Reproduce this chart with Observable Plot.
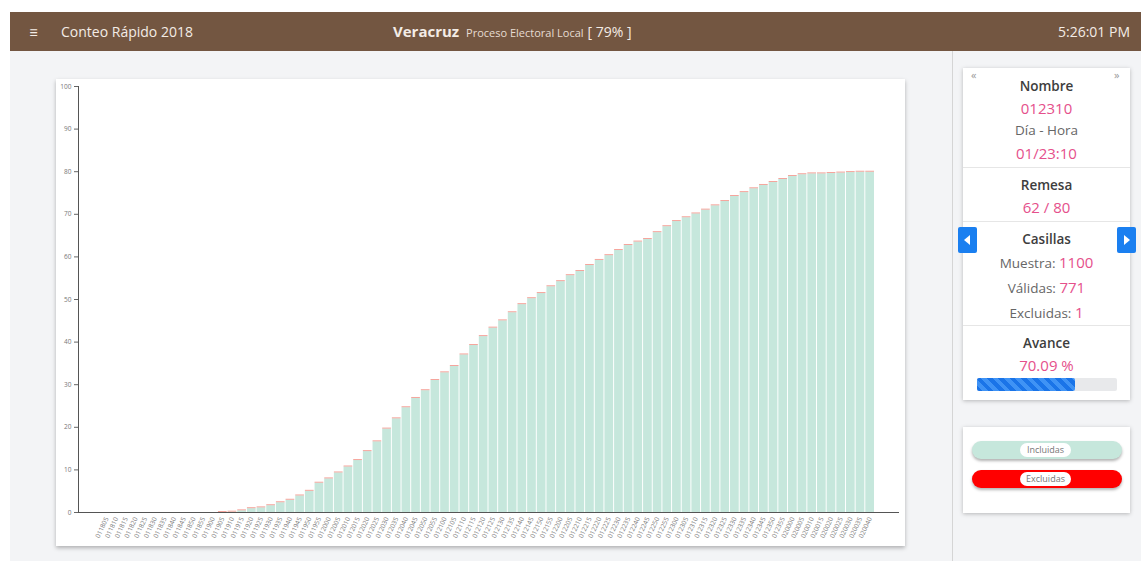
<!DOCTYPE html>
<html>
<head>
<meta charset="utf-8">
<script src="https://cdn.jsdelivr.net/npm/d3@7"></script>
<script src="https://cdn.jsdelivr.net/npm/@observablehq/plot@0.6"></script>
<style>
  html, body { margin: 0; padding: 0; }
  body { width: 1147px; height: 561px; position: relative; overflow: hidden; background: #ffffff; font-family: "Open Sans", "Lato", sans-serif; }
  .abs { position: absolute; }
  #page { left: 10px; top: 12px; width: 1131px; height: 549px; background: #f3f4f6; }
  #header { left: 10px; top: 12px; width: 1131px; height: 39px; background: #735641; color: #f3ece6; }
  #vline { left: 952px; top: 51px; width: 1px; height: 510px; background: #d5d5d5; }
  #chartcard { left: 56px; top: 79px; width: 849px; height: 467px; background: #fff; box-shadow: 0 2px 4px rgba(0,0,0,0.28); }
  .card { background: #fff; box-shadow: 0 1px 4px rgba(0,0,0,0.25); }
  .c { position: absolute; left: 963px; width: 167px; text-align: center; white-space: nowrap; }
  .hd { font-size: 13.5px; color: #3d3d3d; font-weight: 600; }
  .pk { font-size: 15px; color: #e5508b; }
  .gr { font-size: 13.5px; color: #666; }
  .sep { position: absolute; left: 963px; width: 167px; height: 1px; background: #e6e6e6; }
  .btn { position: absolute; width: 19px; height: 26px; background: #1a7ff0; border-radius: 2px; }
  .pill { position: absolute; left: 972px; width: 150px; height: 18px; border-radius: 9px; box-shadow: 0 2px 3px rgba(0,0,0,0.3); }
  .pill span { position: absolute; left: 48px; top: 2px; width: 51px; height: 14px; border-radius: 7px; background: #fff; font-size: 9px; color: #777; text-align: center; line-height: 14px; }
</style>
</head>
<body>
<div id="page" class="abs"></div>
<div id="header" class="abs">
  <div class="abs" style="left:19px;top:9px;font-size:16px;">&#8801;</div>
  <div class="abs" style="left:51px;top:10px;font-size:14px;">Conteo Rápido 2018</div>
  <div class="abs" style="left:383px;top:9px;font-size:15px;font-weight:700;white-space:nowrap;">Veracruz <span style="font-size:11px;font-weight:400;color:#e6dcd2;margin-left:3px;">Proceso Electoral Local</span> <span style="font-weight:400;font-size:14px;">[ 79% ]</span></div>
  <div class="abs" style="left:1020px;top:10px;font-size:14px;width:100px;text-align:right;white-space:nowrap;">5:26:01 PM</div>
</div>
<div id="vline" class="abs"></div>
<div id="chartcard" class="abs"></div>

<div class="abs card" style="left:963px;top:68px;width:167px;height:332px;"></div>
<div class="abs" style="left:971px;top:67px;font-size:11px;color:#999;">&#171;</div>
<div class="abs" style="left:1114px;top:67px;font-size:11px;color:#999;">&#187;</div>
<div class="c hd" style="top:77px;">Nombre</div>
<div class="c pk" style="top:98px;">012310</div>
<div class="c gr" style="top:121px;">Día - Hora</div>
<div class="c pk" style="top:143px;">01/23:10</div>
<div class="sep" style="top:167px;"></div>
<div class="c hd" style="top:176px;">Remesa</div>
<div class="c pk" style="top:197px;">62 / 80</div>
<div class="sep" style="top:221px;"></div>
<div class="c hd" style="top:230px;">Casillas</div>
<div class="c gr" style="top:252px;">Muestra: <span class="pk">1100</span></div>
<div class="c gr" style="top:277px;">Válidas: <span class="pk">771</span></div>
<div class="c gr" style="top:302px;">Excluidas: <span class="pk">1</span></div>
<div class="sep" style="top:325px;"></div>
<div class="c hd" style="top:334px;">Avance</div>
<div class="c pk" style="top:355px;">70.09 %</div>
<div class="abs" style="left:977px;top:378px;width:140px;height:13px;background:#e8e9eb;border-radius:2px;"></div>
<div class="abs" style="left:977px;top:378px;width:98px;height:13px;border-radius:2px;background:repeating-linear-gradient(45deg,#1a74e8 0 4px,#3f93f5 4px 8px);"></div>
<div class="btn" style="left:958px;top:227px;"><svg width="19" height="26"><polygon points="12,8 12,18 6,13" fill="#fff"/></svg></div>
<div class="btn" style="left:1117px;top:227px;"><svg width="19" height="26"><polygon points="7,8 7,18 13,13" fill="#fff"/></svg></div>

<div class="abs card" style="left:963px;top:427px;width:167px;height:86px;"></div>
<div class="pill" style="top:441px;background:#c6e7dc;"><span>Incluidas</span></div>
<div class="pill" style="top:470px;background:#ff0000;"><span>Excluidas</span></div>

<script>
const remesas = [
  "011805","011810","011815","011820","011825","011830","011835","011840","011845","011850","011855",
  "011900","011905","011910","011915","011920","011925","011930","011935","011940","011945","011950","011955",
  "012000","012005","012010","012015","012020","012025","012030","012035","012040","012045","012050","012055",
  "012100","012105","012110","012115","012120","012125","012130","012135","012140","012145","012150","012155",
  "012200","012205","012210","012215","012220","012225","012230","012235","012240","012245","012250","012255",
  "012300","012305","012310","012315","012320","012325","012330","012335","012340","012345","012350","012355",
  "020000","020005","020010","020015","020020","020025","020030","020035","020040"
];
const incluidas = [
  0, 0, 0, 0, 0, 0, 0, 0, 0, 0, 0,
  0, 0, 0.1, 0.4, 0.9, 1.1, 1.6, 2.3, 2.9, 3.9, 5.0,
  6.9, 7.9, 9.3, 10.7, 12.2, 14.3, 16.6, 19.6, 22.0, 24.6, 26.8,
  28.6, 31.0, 32.8, 34.3, 37.0, 39.2, 41.3, 43.3, 45.0, 46.9, 48.8,
  50.2, 51.4, 53.0, 54.2, 55.6, 56.6, 58.0, 59.2, 60.3, 61.5, 62.7,
  63.5, 64.1, 65.7, 67.1, 68.3, 69.2, 70.1, 71.0, 72.0, 73.0, 74.2,
  75.1, 76.0, 76.8, 77.5, 78.2, 78.9, 79.3, 79.5, 79.5, 79.6, 79.7,
  79.8, 79.9, 79.9
];
const excluidas = [
  0, 0, 0, 0, 0, 0, 0, 0, 0, 0, 0,
  0, 0.2, 0.2, 0.2, 0.2, 0.2, 0.2, 0.2, 0.2, 0.2, 0.2,
  0.2, 0.2, 0.2, 0.2, 0.2, 0.2, 0.2, 0.2, 0.2, 0.2, 0.2,
  0.2, 0.2, 0.2, 0.2, 0.2, 0.2, 0.2, 0.2, 0.2, 0.2, 0.2,
  0.2, 0.2, 0.2, 0.2, 0.2, 0.2, 0.2, 0.2, 0.2, 0.2, 0.2,
  0.2, 0.2, 0.2, 0.2, 0.2, 0.2, 0.2, 0.2, 0.2, 0.2, 0.2,
  0.2, 0.2, 0.2, 0.2, 0.2, 0.2, 0.2, 0.2, 0.2, 0.2, 0.2,
  0.2, 0.2, 0.2
];
const yTicks = [0, 10, 20, 30, 40, 50, 60, 70, 80, 90, 100];
const series = ["Incluidas", "Excluidas"];
const seriesColors = ["#c6e7dc", "#f4968c"];

const table = [];
remesas.forEach((r, i) => {
  table.push({remesa: r, tipo: series[0], valor: incluidas[i]});
  table.push({remesa: r, tipo: series[1], valor: excluidas[i]});
});

const chart = Plot.plot({
  width: 849,
  height: 467,
  marginLeft: 22,
  marginRight: 6,
  marginTop: 7,
  marginBottom: 34,
  style: {fontFamily: "Open Sans, sans-serif", fontSize: "6.5px", color: "#777", background: "transparent"},
  x: {type: "band", domain: remesas, range: [46, 818], paddingInner: 0.1, paddingOuter: 0, axis: null},
  y: {domain: [0, 100], axis: null},
  color: {domain: series, range: seriesColors},
  marks: [
    Plot.barY(table, {x: "remesa", y: "valor", fill: "tipo", order: series}),
    Plot.axisX({tickRotate: -65, tickSize: 0, tickPadding: 5, label: null, fill: "#777"}),
    Plot.axisY({ticks: yTicks, tickSize: 4, tickPadding: 3, label: null, stroke: "#666", fill: "#777"}),
    Plot.frame({anchor: "left", stroke: "#555"}),
    Plot.ruleY([0], {stroke: "#555"})
  ]
});
chart.style.position = "absolute";
chart.style.left = "56px";
chart.style.top = "79px";
document.body.appendChild(chart);
</script>
</body>
</html>
